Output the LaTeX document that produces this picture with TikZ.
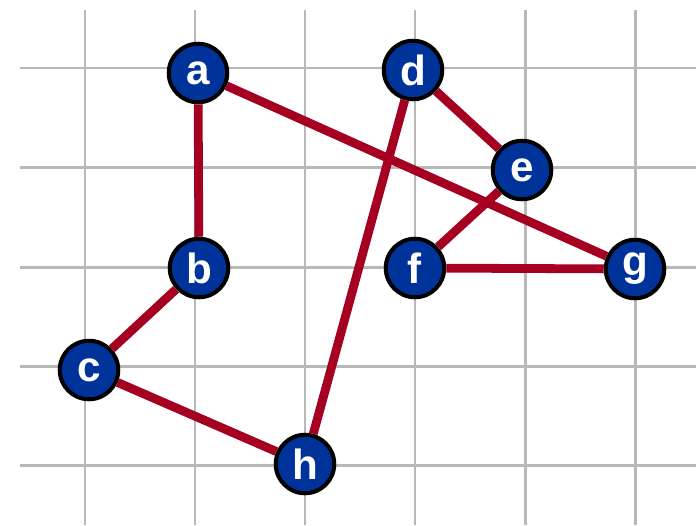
\documentclass[tikz,border=0pt]{standalone}
\usepackage{fontspec}
\setmainfont{Liberation Sans}
\definecolor{vertexblue}{RGB}{0,51,153}
\definecolor{edgered}{RGB}{165,0,33}
\definecolor{gridgray}{RGB}{184,184,184}
\tikzset{
    vertex/.style={circle, draw=black, line width=2.3pt, fill=vertexblue,
        minimum size=1.17cm, inner sep=0pt, text=white,
        font=\fontsize{24}{24}\selectfont\bfseries},
    edge/.style={edgered, line width=5pt}
}
\begin{document}
\begin{tikzpicture}[x=0.02cm, y=-0.02cm]
    \useasboundingbox (0,0) rectangle (696,525);

    % 1. Lưới nền
    \foreach \gx in {85,195,305,415,525,635}
        \draw[gridgray, line width=1.7pt] (\gx,10) -- (\gx,525);
    \foreach \gy in {68,167,267,366,465}
        \draw[gridgray, line width=1.7pt] (20,\gy) -- (696,\gy);

    % 2. Các đỉnh
    \node[vertex] (a) at (198,73) {a};
    \node[vertex] (b) at (199,268) {b};
    \node[vertex] (c) at (89,370) {c};
    \node[vertex] (d) at (413,70) {d};
    \node[vertex] (e) at (522,170) {e};
    \node[vertex] (f) at (415,268) {f};
    \node[vertex] (g) at (635,269) {g};
    \node[vertex] (h) at (305,464) {h};

    % 3. Các cạnh
    \draw[edge] (a) -- (b);
    \draw[edge] (a) -- (g);
    \draw[edge] (b) -- (c);
    \draw[edge] (c) -- (h);
    \draw[edge] (h) -- (d);
    \draw[edge] (d) -- (e);
    \draw[edge] (e) -- (f);
    \draw[edge] (f) -- (g);
\end{tikzpicture}
\end{document}
